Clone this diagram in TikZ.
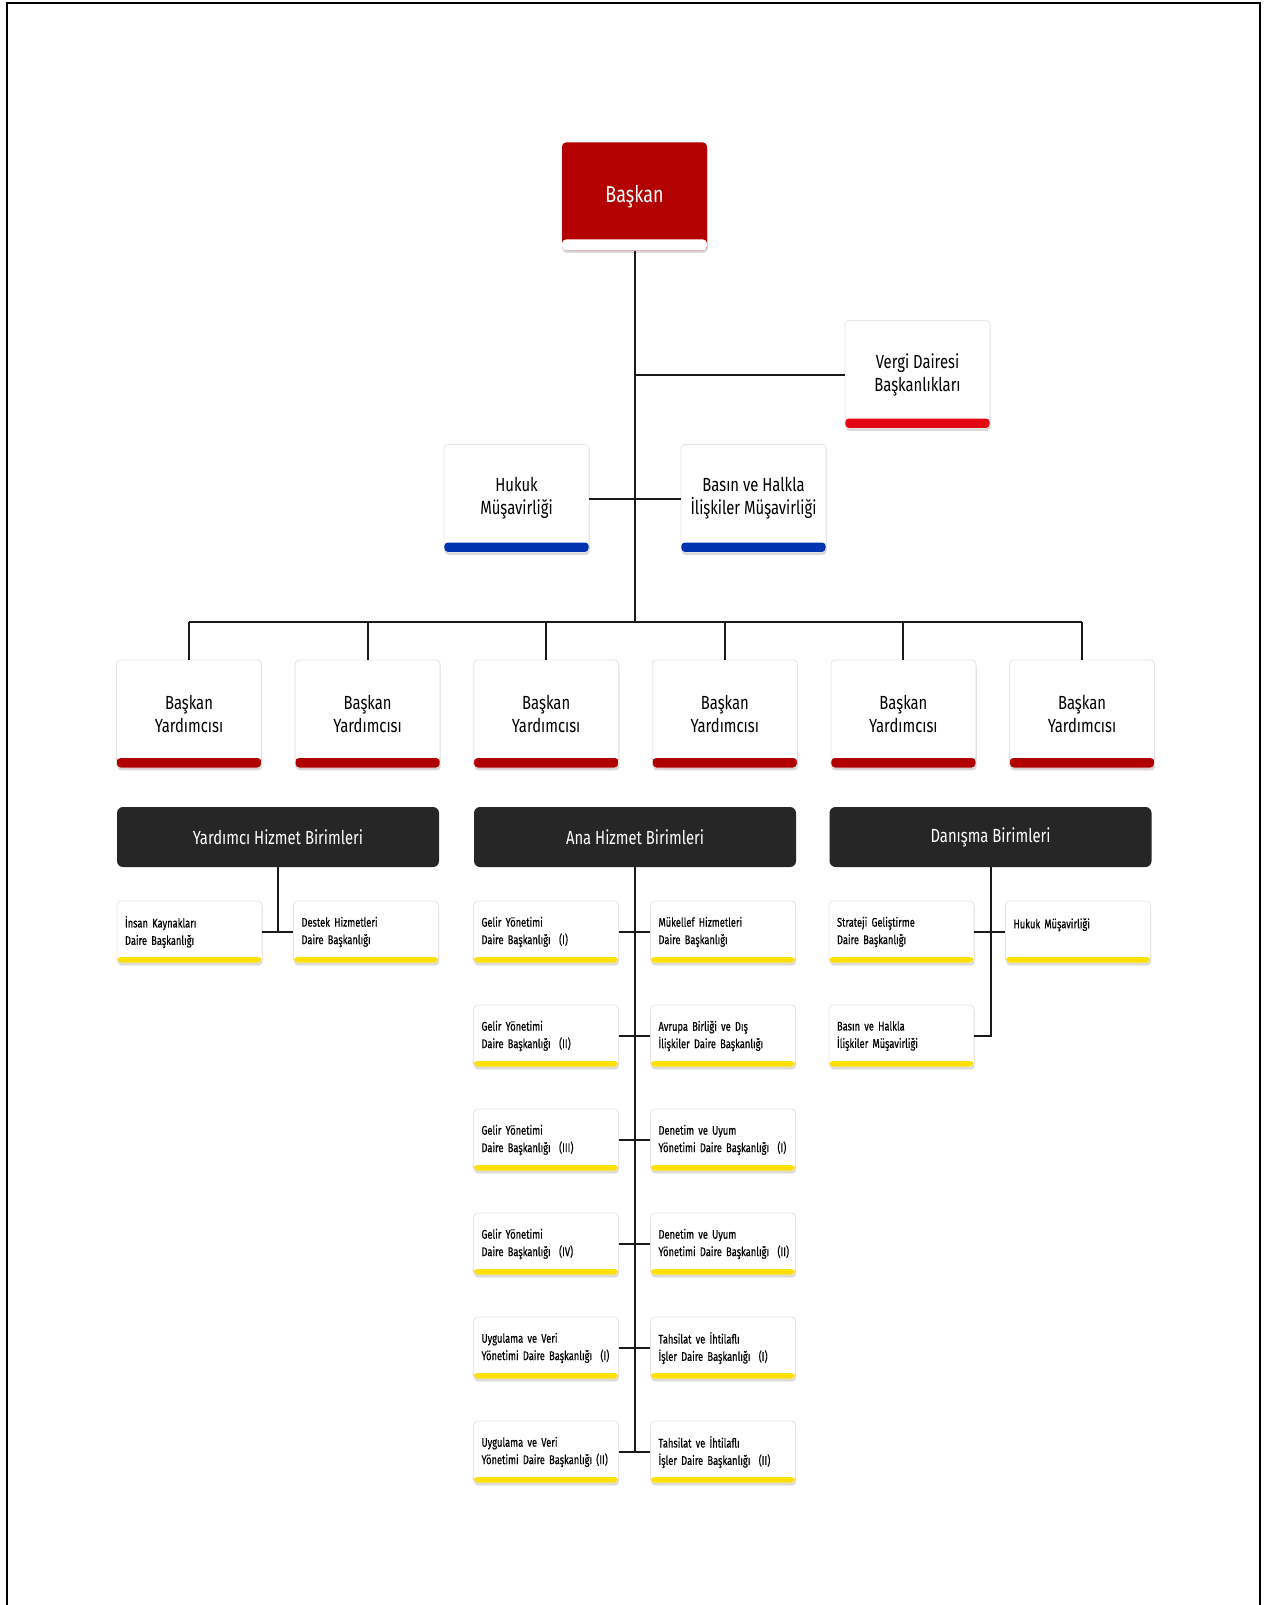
\documentclass[tikz,border=0pt]{standalone}
\usepackage{fontspec}
\setmainfont{Fira Sans}[FakeStretch=0.78]
\newfontfamily\narrowfont{Fira Sans}[FakeStretch=0.74, FakeBold=0.4]
\usetikzlibrary{shadows}
\definecolor{baskanred}{HTML}{B30000}
\definecolor{vergired}{HTML}{E30613}
\definecolor{yrdred}{HTML}{B00000}
\definecolor{musblue}{HTML}{0033B0}
\definecolor{unityellow}{HTML}{FFE000}
\definecolor{headgray}{HTML}{262626}
\definecolor{linegray}{HTML}{1A1A1A}

\tikzset{
  card/.style={draw=black!10, fill=white, rounded corners=2pt,
    drop shadow={shadow xshift=0.3pt, shadow yshift=-1.2pt, opacity=0.25, fill=black!60}},
  band/.style 2 args={path picture={\fill[#1] ([yshift=#2]path picture bounding box.south west) rectangle (path picture bounding box.south east);}},
  bigcard/.style={card, minimum width=72.5pt, minimum height=54pt, align=center, inner sep=0pt, font=\fontsize{9.5}{11.5}\selectfont},
  smallcard/.style={card, text width=64.5pt, inner xsep=4pt, inner ysep=0pt, minimum height=31pt, align=left, font={\hyphenpenalty=10000\relax\fontsize{6.3}{8.7}\narrowfont}, band={unityellow}{3pt}},
  headcard/.style={fill=headgray, rounded corners=3pt, text=white, minimum width=161pt, minimum height=30pt, font=\fontsize{9.5}{11.5}\selectfont},
  link/.style={draw=linegray, line width=1pt},
}

\begin{document}
\begin{tikzpicture}[x=0.5pt, y=-0.5pt]
    \useasboundingbox (0,0) rectangle (1267,1605);
    % page frame
    \draw [line width=1pt] (7,1605) -- (7,3.5) -- (1260,3.5) -- (1260,1605);

    \node [bigcard, fill=baskanred, draw=none, text=white, band={white}{5.5pt}, font=\fontsize{11.5}{13}\selectfont] at (634.5,196.5) (baskan) {\raisebox{2.75pt}{Başkan}};
    \node [bigcard, band={vergired}{5pt}] at (917.5,374.5) (vergi) {Vergi Dairesi\\Başkanlıkları};
    \node [bigcard, band={musblue}{5pt}] at (516.5,498.5) (hukuk) {Hukuk\\Müşavirliği};
    \node [bigcard, band={musblue}{5pt}] at (753.5,498.5) (basin) {Basın ve Halkla\\İlişkiler Müşavirliği};
    \coordinate (bus) at (634.5,622);

    \node [bigcard, band={yrdred}{5pt}] at (189,714) (yrd1) {Başkan\\Yardımcısı};
    \node [bigcard, band={yrdred}{5pt}] at (367.6,714) (yrd2) {Başkan\\Yardımcısı};
    \node [bigcard, band={yrdred}{5pt}] at (546.2,714) (yrd3) {Başkan\\Yardımcısı};
    \node [bigcard, band={yrdred}{5pt}] at (724.8,714) (yrd4) {Başkan\\Yardımcısı};
    \node [bigcard, band={yrdred}{5pt}] at (903.4,714) (yrd5) {Başkan\\Yardımcısı};
    \node [bigcard, band={yrdred}{5pt}] at (1082,714) (yrd6) {Başkan\\Yardımcısı};

    \node [headcard] at (278,837) (yhb) {Yardımcı Hizmet Birimleri};
    \node [headcard] at (635,837) (ahb) {Ana Hizmet Birimleri};
    \node [headcard] at (990.5,837) (dnb) {Danışma Birimleri};

    % yardimci hizmet birimleri
    \node [smallcard] at (189.5,932) (ik) {İnsan Kaynakları\\Daire Başkanlığı};
    \node [smallcard] at (366,932) (destek) {Destek Hizmetleri\\Daire Başkanlığı};

    % ana hizmet birimleri
    \node [smallcard] at (546,932) (gy1) {Gelir Yönetimi\\Daire Başkanlığı~~(I)};
    \node [smallcard] at (546,1036) (gy2) {Gelir Yönetimi\\Daire Başkanlığı~~(II)};
    \node [smallcard] at (546,1140) (gy3) {Gelir Yönetimi\\Daire Başkanlığı~~(III)};
    \node [smallcard] at (546,1244) (gy4) {Gelir Yönetimi\\Daire Başkanlığı~~(IV)};
    \node [smallcard] at (546,1348) (uvy1) {Uygulama ve Veri\\\mbox{Yönetimi Daire Başkanlığı~~(I)}};
    \node [smallcard] at (546,1452) (uvy2) {Uygulama ve Veri\\\mbox{Yönetimi Daire Başkanlığı~(II)}};
    \node [smallcard] at (723,932) (mh) {Mükellef Hizmetleri\\Daire Başkanlığı};
    \node [smallcard] at (723,1036) (ab) {Avrupa Birliği ve Dış\\\mbox{İlişkiler Daire Başkanlığı}};
    \node [smallcard] at (723,1140) (du1) {Denetim ve Uyum\\\mbox{Yönetimi Daire Başkanlığı~~(I)}};
    \node [smallcard] at (723,1244) (du2) {Denetim ve Uyum\\\mbox{Yönetimi Daire Başkanlığı~~(II)}};
    \node [smallcard] at (723,1348) (ti1) {Tahsilat ve İhtilaflı\\\mbox{İşler Daire Başkanlığı~~(I)}};
    \node [smallcard] at (723,1452) (ti2) {Tahsilat ve İhtilaflı\\\mbox{İşler Daire Başkanlığı~~(II)}};

    % danisma birimleri
    \node [smallcard] at (901.5,932) (sg) {Strateji Geliştirme\\Daire Başkanlığı};
    \node [smallcard] at (1078,932) (hm) {Hukuk Müşavirliği\\~};
    \node [smallcard] at (901.5,1036) (bhm) {Basın ve Halkla\\İlişkiler Müşavirliği};

    \path [link] (baskan.south) -- (bus);
    \path [link] (vergi.west) -- (vergi.west -| bus);
    \path [link] (hukuk.east) -- (basin.west);
    \path [link] (bus -| yrd1.north) -- (bus -| yrd6.north);
    \path [link] (yrd1.north) -- (yrd1.north |- bus);
    \path [link] (yrd2.north) -- (yrd2.north |- bus);
    \path [link] (yrd3.north) -- (yrd3.north |- bus);
    \path [link] (yrd4.north) -- (yrd4.north |- bus);
    \path [link] (yrd5.north) -- (yrd5.north |- bus);
    \path [link] (yrd6.north) -- (yrd6.north |- bus);

    \path [link] (yhb.south) -- (yhb.south |- ik.east);
    \path [link] (ik.east) -- (destek.west);

    \path [link] (ahb.south) -- (ahb.south |- uvy2.east);
    \path [link] (gy1.east) -- (mh.west);
    \path [link] (gy2.east) -- (ab.west);
    \path [link] (gy3.east) -- (du1.west);
    \path [link] (gy4.east) -- (du2.west);
    \path [link] (uvy1.east) -- (ti1.west);
    \path [link] (uvy2.east) -- (ti2.west);

    \path [link] (dnb.south) |- (bhm.east);
    \path [link] (sg.east) -- (hm.west);
\end{tikzpicture}
\end{document}
